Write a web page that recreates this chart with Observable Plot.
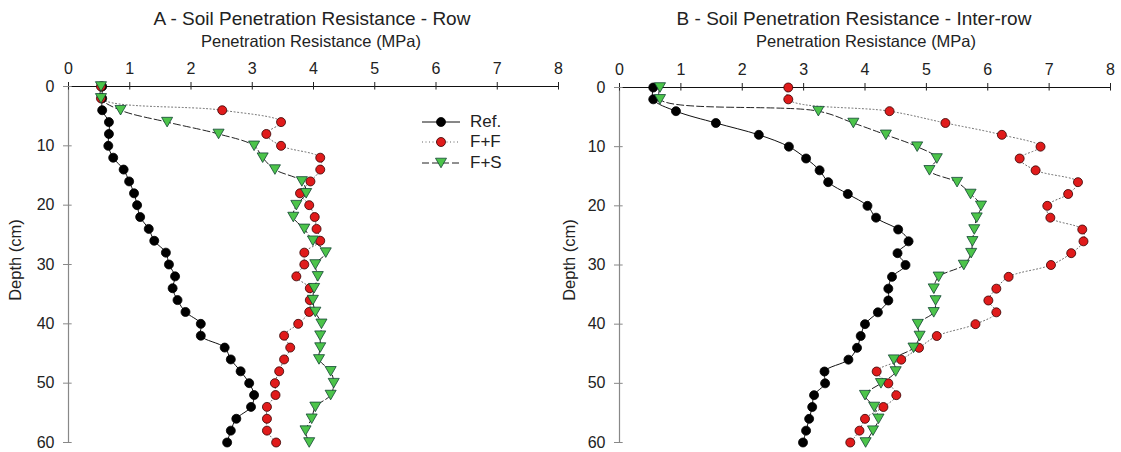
<!DOCTYPE html>
<html>
<head>
<meta charset="utf-8">
<script src="https://cdn.jsdelivr.net/npm/d3@7"></script>
<script src="https://cdn.jsdelivr.net/npm/@observablehq/plot@0.6"></script>
<style>
  body { margin: 0; background: #fff; }
  #wrap { position: relative; width: 1121px; height: 452px; overflow: hidden; font-family: "Liberation Sans", Arial, sans-serif; color: #222; }
  .panel { position: absolute; top: 0; }
  .title { position: absolute; font-size: 19px; white-space: nowrap; transform: translateX(-50%); }
  .xlab { position: absolute; font-size: 16.5px; white-space: nowrap; transform: translateX(-50%); }
  .legend { position: absolute; font-size: 17px; }
  .legend div { display: flex; align-items: center; height: 20.3px; }
  .legend svg { margin-right: 10px; }
</style>
</head>
<body>
<div id="wrap"></div>
<script>
const depths = [0,2,4,6,8,10,12,14,16,18,20,22,24,26,28,30,32,34,36,38,40,42,44,46,48,50,52,54,56,58,60];
const seriesNames = ["Ref.", "F+F", "F+S"];
const xTicks = [0,1,2,3,4,5,6,7,8];
const yTicks = [0,10,20,30,40,50,60];

// Panel A - Row
const refA = [0.55,0.55,0.55,0.66,0.66,0.65,0.73,0.90,0.99,1.07,1.12,1.17,1.31,1.40,1.59,1.64,1.74,1.70,1.78,1.91,2.16,2.16,2.55,2.65,2.81,2.95,3.03,2.98,2.74,2.65,2.59];
const ffA  = [0.53,0.53,2.51,3.47,3.23,3.47,4.11,4.11,3.95,3.78,3.93,4.02,4.05,4.11,3.85,3.85,3.72,3.94,3.94,3.93,3.75,3.52,3.62,3.52,3.44,3.37,3.38,3.24,3.24,3.24,3.39];
const fsA  = [0.53,0.53,0.85,1.61,2.45,3.03,3.17,3.37,3.81,3.88,3.72,3.67,3.85,3.99,4.20,4.03,4.07,4.01,3.99,4.03,4.13,4.11,4.11,4.09,4.28,4.33,4.28,4.03,3.97,3.87,3.93];

// Panel B - Inter-row
const refB = [0.55,0.55,0.92,1.57,2.27,2.76,3.04,3.26,3.40,3.72,4.04,4.18,4.54,4.71,4.53,4.66,4.44,4.38,4.38,4.21,4.00,3.93,3.87,3.73,3.34,3.35,3.17,3.14,3.09,3.04,2.99];
const ffB  = [2.75,2.75,4.40,5.31,6.23,6.86,6.52,6.78,7.47,7.31,6.97,7.02,7.54,7.56,7.36,7.03,6.34,6.14,6.01,6.14,5.80,5.17,4.88,4.59,4.19,4.38,4.51,4.30,4.00,3.91,3.76];
const fsB  = [0.66,0.66,3.24,3.81,4.34,4.85,5.17,5.05,5.50,5.72,5.89,5.82,5.78,5.75,5.73,5.61,5.20,5.12,5.15,5.12,4.86,4.89,4.79,4.47,4.50,4.26,4.00,4.15,4.22,4.13,4.01];

const RED = "#e01b1b", GREEN = "#4cc44a";

const triDown = {
  draw(ctx, size) {
    const s = Math.sqrt(4 * size / Math.sqrt(3));
    const h = s * Math.sqrt(3) / 2;
    ctx.moveTo(-s / 2, -h / 2);
    ctx.lineTo(s / 2, -h / 2);
    ctx.lineTo(0, h / 2);
    ctx.closePath();
  }
};

function rows(vals) { return depths.map((d, i) => ({depth: d, v: vals[i]})); }

function panel({ref, ff, fs, width, ml, mr, mt, mb}) {
  const R = rows(ref), F = rows(ff), S = rows(fs);
  return Plot.plot({
    width, height: 452,
    marginLeft: ml, marginRight: mr, marginTop: mt, marginBottom: mb,
    style: {fontFamily: '"Liberation Sans", Arial, sans-serif', fontSize: "16px", color: "#222", background: "transparent", overflow: "visible"},
    x: {domain: [0, 8], label: null},
    y: {domain: [0, 60], reverse: true, label: null},
    marks: [
      Plot.ruleX([0], {stroke: "#888", strokeWidth: 1.2}),
      Plot.ruleY([0], {stroke: "#111", strokeWidth: 1.2}),
      Plot.axisX({ticks: xTicks, anchor: "top", tickSize: 5, tickPadding: 8, stroke: "#222", fontSize: 16, fill: "#222", label: null}),
      Plot.ruleX(xTicks, {x: d => d, y1: 0, y2: 0.6, stroke: "#222"}),
      Plot.axisY({ticks: yTicks, anchor: "left", tickSize: 5, tickPadding: 9, stroke: "#888", fontSize: 16, fill: "#222", label: null}),
      Plot.ruleY(yTicks, {y: d => d, x1: 0, x2: 0.06, stroke: "#888"}),
      Plot.line(R, {x: "v", y: "depth", stroke: "#111", strokeWidth: 1, curve: "catmull-rom"}),
      Plot.line(F, {x: "v", y: "depth", stroke: "#666", strokeWidth: 1, strokeDasharray: "1,2.5", curve: "catmull-rom"}),
      Plot.line(S, {x: "v", y: "depth", stroke: "#222", strokeWidth: 1, strokeDasharray: "7,3", curve: "catmull-rom"}),
      Plot.dot(R, {x: "v", y: "depth", r: 4.5, fill: "#000", stroke: "#000", strokeWidth: 0.8}),
      Plot.dot(F, {x: "v", y: "depth", r: 4.5, fill: RED, stroke: "#300", strokeWidth: 0.8}),
      Plot.dot(S, {x: "v", y: "depth", r: 4.1, symbol: triDown, fill: GREEN, stroke: "#143", strokeWidth: 0.8})
    ]
  });
}

const wrap = document.getElementById("wrap");

function addPanel(opts, title, titleX, xlabX, ylabX) {
  const div = document.createElement("div");
  div.className = "panel";
  div.style.left = opts.left + "px";
  div.appendChild(panel(opts));
  wrap.appendChild(div);
  const t = document.createElement("div");
  t.className = "title"; t.textContent = title;
  t.style.left = titleX + "px"; t.style.top = "8px";
  wrap.appendChild(t);
  const xl = document.createElement("div");
  xl.className = "xlab"; xl.textContent = "Penetration Resistance (MPa)";
  xl.style.left = xlabX + "px"; xl.style.top = "32px";
  wrap.appendChild(xl);
  const yl = document.createElementNS("http://www.w3.org/2000/svg", "svg");
  yl.setAttribute("width", 30); yl.setAttribute("height", 120);
  yl.style.position = "absolute"; yl.style.left = (ylabX - 15) + "px"; yl.style.top = "200px";
  const tx = document.createElementNS("http://www.w3.org/2000/svg", "text");
  tx.setAttribute("transform", "translate(21,60) rotate(-90)");
  tx.setAttribute("text-anchor", "middle");
  tx.setAttribute("font-size", "16.5");
  tx.setAttribute("fill", "#222");
  tx.setAttribute("font-family", '"Liberation Sans", Arial, sans-serif');
  tx.textContent = "Depth (cm)";
  yl.appendChild(tx);
  wrap.appendChild(yl);
}

addPanel({ref: refA, ff: ffA, fs: fsA, left: 0, width: 580, ml: 68, mr: 22, mt: 86, mb: 10},
  "A - Soil Penetration Resistance - Row", 312, 311, 15);
addPanel({ref: refB, ff: ffB, fs: fsB, left: 580, width: 541, ml: 39, mr: 11, mt: 87, mb: 10},
  "B - Soil Penetration Resistance - Inter-row", 854, 866, 569);

// Legend (panel A)
const legend = document.createElement("div");
legend.className = "legend";
legend.style.left = "422px"; legend.style.top = "112px";
const styles = [
  {dash: null, stroke: "#111", sym: "circle", fill: "#000"},
  {dash: "1,2.5", stroke: "#666", sym: "circle", fill: RED},
  {dash: "7,3", stroke: "#222", sym: "tri", fill: GREEN}
];
seriesNames.forEach((name, i) => {
  const st = styles[i];
  const row = document.createElement("div");
  const svg = d3.create("svg").attr("width", 38).attr("height", 20);
  svg.append("line").attr("x1", 0).attr("x2", 38).attr("y1", 10).attr("y2", 10)
    .attr("stroke", st.stroke).attr("stroke-width", 1).attr("stroke-dasharray", st.dash);
  if (st.sym === "circle") {
    svg.append("circle").attr("cx", 19).attr("cy", 10).attr("r", 4.5).attr("fill", st.fill)
      .attr("stroke", i === 0 ? "#000" : "#300").attr("stroke-width", 0.8);
  } else {
    svg.append("path").attr("transform", "translate(19,10)")
      .attr("d", d3.symbol(triDown, 4.1 * 4.1 * Math.PI)()).attr("fill", st.fill)
      .attr("stroke", "#143").attr("stroke-width", 0.8);
  }
  row.appendChild(svg.node());
  const span = document.createElement("span");
  span.textContent = name;
  row.appendChild(span);
  legend.appendChild(row);
});
wrap.appendChild(legend);
</script>
</body>
</html>
